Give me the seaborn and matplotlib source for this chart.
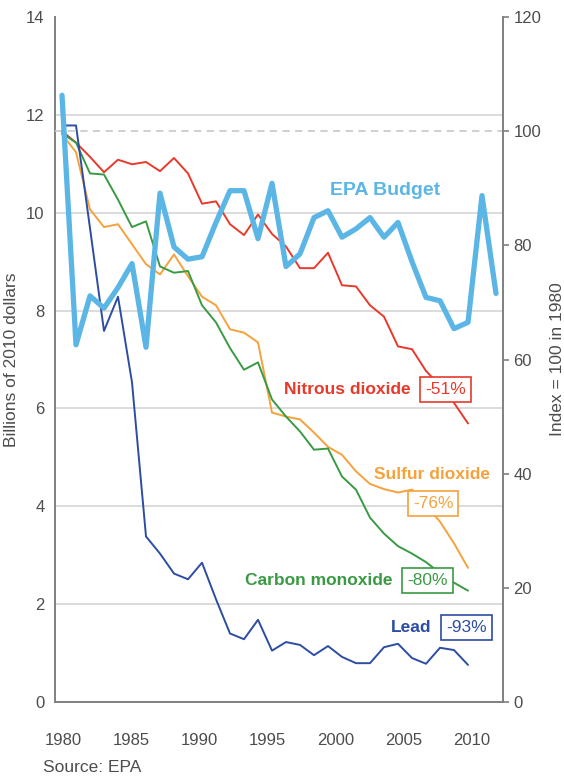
import matplotlib
matplotlib.use("Agg")
import matplotlib.pyplot as plt
import seaborn as sns

# pollutant index (1980 = 100) and EPA budget (billions of 2010 dollars)
years = list(range(1980, 2010))
budget_years = list(range(1980, 2012))

epa_budget = [12.4, 7.3, 8.3, 8.05, 8.47, 8.96, 7.25, 10.4, 9.3, 9.05,
              9.1, 9.8, 10.45, 10.45, 9.47, 10.6, 8.9, 9.16, 9.9, 10.04,
              9.5, 9.67, 9.9, 9.5, 9.8, 9.0, 8.27, 8.2, 7.63, 7.76,
              10.35, 8.35]
nitrous = [100, 98, 95.5, 92.8, 95, 94.2, 94.6, 93, 95.3, 92.6,
           87.3, 87.7, 83.7, 81.8, 85.4, 82, 79.8, 76, 76, 78.7,
           73, 72.8, 69.5, 67.5, 62.3, 61.8, 58, 55.4, 52.4, 48.8]
sulfur = [99.5, 96.3, 86.3, 83.2, 83.7, 80.2, 76.7, 74.9, 78.4, 74.6,
          71, 69.5, 65.3, 64.7, 63, 50.7, 50, 49.5, 47.2, 44.7,
          43.3, 40.4, 38.2, 37.3, 36.7, 37.2, 34.4, 31.6, 27.8, 23.5]
carbon = [99.6, 98, 92.6, 92.4, 88, 83.2, 84.2, 76.3, 75.2, 75.5,
          69.5, 66.5, 62, 58.2, 59.5, 53, 50, 47.4, 44.2, 44.4,
          39.5, 37.2, 32.3, 29.5, 27.3, 26, 24.5, 22.6, 20.9, 19.5]
lead = [101, 101, 83, 65, 71, 56, 29, 26, 22.5, 21.5,
        24.4, 18, 12, 11, 14.4, 9, 10.5, 10, 8.2, 9.8,
        7.9, 6.8, 6.8, 9.6, 10.2, 7.7, 6.7, 9.5, 9.1, 6.5]

names = ["Nitrous dioxide", "Sulfur dioxide", "Carbon monoxide", "Lead"]
changes = ["-51%", "-76%", "-80%", "-93%"]
colors = ["#e8392b", "#f6a23c", "#3a9a44", "#2c4da3"]
epa_color = "#5bb6e6"

sns.set_style("white")
plt.rcParams["font.family"] = ["Liberation Sans Narrow", "Liberation Sans", "DejaVu Sans"]

fig = plt.figure(figsize=(5.64, 7.8), dpi=100)
rect = [55 / 564, 78 / 780, 448 / 564, 685 / 780]
ax = fig.add_axes(rect)    # left scale, grid, year labels
ax2 = fig.add_axes(rect)   # pollutants, index scale
ax3 = fig.add_axes(rect)   # EPA budget on top
for a in (ax2, ax3):
    a.patch.set_visible(False)

grey = "#808080"
txt = "#4d4d4d"

# base axis
ax.set_xlim(1979.41, 2012.27)
ax.set_ylim(0, 14)
ax.set_xticks(range(1980, 2011, 5))
ax.set_yticks(range(0, 15, 2))
ax.grid(axis="y", color="#d9d9d9", lw=1.3)
ax.get_ygridlines()[-1].set_visible(False)
ax.set_axisbelow(True)
for s in ["top", "right"]:
    ax.spines[s].set_visible(False)
for s in ["left", "bottom"]:
    ax.spines[s].set_color(grey)
    ax.spines[s].set_linewidth(1.4)
ax.tick_params(direction="out", length=4, width=1.2, color=grey,
               labelcolor=txt, labelsize=12)
ax.tick_params(axis="x", pad=18)
ax.set_ylabel("Billions of 2010 dollars", fontsize=12.5, color=txt)
ax.yaxis.set_label_coords(-0.08, 0.5)

# pollutants
ax2.axhline(100, color="#cccccc", lw=1.3, ls=(0, (4, 3)), zorder=1)
for vals, c in zip([nitrous, sulfur, carbon, lead], colors):
    sns.lineplot(x=years, y=vals, ax=ax2, color=c, lw=1.4)
ax2.set_xlim(1979.5, 2011.5)
ax2.set_ylim(0, 120)
ax2.set_xticks([])
ax2.set_yticks(range(0, 121, 20))
ax2.yaxis.tick_right()
ax2.yaxis.set_label_position("right")
for s in ["top", "left", "bottom"]:
    ax2.spines[s].set_visible(False)
ax2.spines["right"].set_color(grey)
ax2.spines["right"].set_linewidth(1.4)
ax2.tick_params(direction="out", length=4, width=1.2, color=grey,
                labelcolor=txt, labelsize=12)
ax2.set_xlabel("")
ax2.set_ylabel("Index = 100 in 1980", fontsize=12.5, color=txt)
ax2.yaxis.set_label_coords(1.105, 0.5)

# EPA budget
sns.lineplot(x=budget_years, y=epa_budget, ax=ax3, color=epa_color, lw=3.8)
ax3.set_xlim(1979.5, 2011.5)
ax3.set_ylim(0, 14)
ax3.axis("off")
ax3.text(2003.1, 10.46, "EPA Budget", color=epa_color, fontsize=14,
         fontweight="bold", ha="center", va="center")

# labels and boxed changes
label_pos = [(2004.9, 54.7), (2010.6, 39.8), (2003.6, 21.2), (2006.4, 13.1)]
box_pos = [(2007.4, 54.7), (2006.5, 34.8), (2006.1, 21.3), (2008.9, 13.1)]
for n, ch, c, lp, bp in zip(names, changes, colors, label_pos, box_pos):
    ax2.text(lp[0], lp[1], n, color=c, fontsize=12.5, fontweight="bold",
             ha="right", va="center")
    ax2.text(bp[0], bp[1], ch, color=c, fontsize=12.5, ha="center", va="center",
             bbox=dict(boxstyle="square,pad=0.3", fc="white", ec=c, lw=1.2))

fig.text(43 / 564, 1 - 768 / 780, "Source: EPA", fontsize=12.5, color=txt,
         ha="left", va="center")

fig.savefig("out.png", dpi=100)
